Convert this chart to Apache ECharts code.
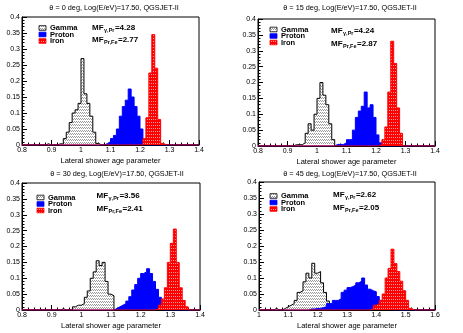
<!DOCTYPE html>
<html lang="en">
  <head>
    <meta charset="UTF-8" />
    <title>Lateral shower age parameter</title>
    <script src="https://cdn.jsdelivr.net/npm/echarts@6/dist/echarts.min.js"></script>
    <style>
      html, body { margin: 0; padding: 0; background: #fff; }
      #chart { width: 463px; height: 333px; }
    </style>
  </head>
  <body>
    <div id="chart"></div>

    <script type="text/javascript">
      // histogram bin width (all panels)
      const BIN = 0.01;

      // x range of each panel
      const xMin = [0.8, 0.8, 0.8, 1.0];
      const xMax = [1.4, 1.4, 1.4, 1.6];
      const angles = [0, 15, 30, 45];

      // merit factors printed in each panel
      const mfGammaProton = ["4.28", "4.24", "3.56", "2.62"];
      const mfProtonIron = ["2.77", "2.87", "2.41", "2.05"];

      // left edge of the first bin of each histogram, one per panel
      const gammaStart = [0.88, 0.92, 0.93, 1.05];
      const protonStart = [1.08, 1.06, 1.11, 1.17];
      const ironStart = [1.21, 1.21, 1.25, 1.38];

      // bin contents (fraction of events)
      const gamma = [
        [0.004, 0, 0, 0, 0.004, 0.003, 0.02, 0.04, 0.07, 0.1, 0.11, 0.13, 0.27, 0.16, 0.13, 0.09, 0.04, 0.005],
        [0.004, 0.004, 0.004, 0.01, 0.04, 0.07, 0.05, 0.1, 0.15, 0.2, 0.16, 0.13, 0.07, 0.02],
        [0.004, 0, 0, 0, 0.01, 0.015, 0.015, 0.02, 0.04, 0.06, 0.1, 0.12, 0.155, 0.14, 0.15, 0.09, 0.05, 0.045],
        [0.005, 0, 0, 0.005, 0.01, 0.015, 0.02, 0.03, 0.055, 0.06, 0.088, 0.115, 0.1, 0.146, 0.115, 0.12, 0.085, 0.055, 0.028, 0.018, 0.005],
      ];
      const proton = [
        [0.005, 0.01, 0.02, 0.03, 0.05, 0.09, 0.12, 0.14, 0.175, 0.15, 0.12, 0.09, 0.05, 0.01],
        [0.005, 0.005, 0.005, 0.01, 0.02, 0.02, 0.05, 0.09, 0.11, 0.125, 0.17, 0.12, 0.13, 0.09, 0.035, 0.01],
        [0.005, 0.01, 0.015, 0.02, 0.028, 0.042, 0.063, 0.08, 0.1, 0.115, 0.12, 0.13, 0.115, 0.09, 0.065, 0.04, 0.01],
        [0.003, 0.003, 0.005, 0.005, 0.008, 0.01, 0.02, 0.02, 0.03, 0.03, 0.035, 0.055, 0.062, 0.07, 0.073, 0.078, 0.085, 0.09, 0.1, 0.078, 0.065, 0.06, 0.057, 0.042, 0.03, 0.02, 0.01, 0.005],
      ];
      const iron = [
        [0.02, 0.085, 0.225, 0.345, 0.24, 0.08, 0.005],
        [0.005, 0.02, 0.06, 0.17, 0.33, 0.26, 0.12, 0.04],
        [0.005, 0.015, 0.035, 0.07, 0.15, 0.21, 0.255, 0.15, 0.07, 0.03, 0.01],
        [0.005, 0.015, 0.02, 0.03, 0.05, 0.1, 0.13, 0.19, 0.145, 0.12, 0.09, 0.06, 0.03, 0.005],
      ];

      // plot frames (px) and text anchors for each pad
      const grids = [
        { left: 22, top: 17, width: 177, height: 128 },
        { left: 258, top: 19, width: 177, height: 127 },
        { left: 22, top: 183, width: 178, height: 127 },
        { left: 259, top: 182, width: 176, height: 128 },
      ];
      const anchors = [
        { title: [114, 7.5], leg: [39, 28], mf: [92, 27.5] },
        { title: [350, 8], leg: [270, 29.5], mf: [331, 31] },
        { title: [117, 173.5], leg: [37, 197.5], mf: [96.5, 196] },
        { title: [350, 173.5], leg: [270, 196], mf: [333, 195] },
      ];

      const FONT = "'Liberation Sans', Arial, Helvetica, sans-serif";

      // small canvases used as ROOT-like fill patterns
      function makePattern(w, h, draw) {
        const c = document.createElement("canvas");
        c.width = w;
        c.height = h;
        draw(c.getContext("2d"));
        return { image: c, repeat: "repeat" };
      }
      const gammaFill = makePattern(2, 3, (ctx) => {
        ctx.fillStyle = "#ffffff";
        ctx.fillRect(0, 0, 2, 3);
        ctx.fillStyle = "#9a9a9a";
        ctx.fillRect(0, 1, 1, 1);
        ctx.fillRect(1, 2, 1, 1);
      });
      const ironFill = makePattern(4, 3, (ctx) => {
        ctx.fillStyle = "#ff0000";
        ctx.fillRect(0, 0, 4, 3);
        ctx.fillStyle = "#ff9a9a";
        ctx.fillRect(1, 2, 1, 1);
        ctx.fillRect(3, 2, 1, 1);
      });

      // text width helper for the MF labels
      const measureCtx = document.createElement("canvas").getContext("2d");
      function textWidth(str, font) {
        measureCtx.font = font;
        return measureCtx.measureText(str).width;
      }

      // turn a bin list into step points spanning the whole axis
      function histPoints(lo, hi, start, vals) {
        const pts = [];
        const n = Math.round((hi - lo) / BIN);
        for (let i = 0; i < n; i++) {
          const x = +(lo + i * BIN).toFixed(4);
          const k = Math.round((x - start) / BIN);
          pts.push([x, k >= 0 && k < vals.length ? vals[k] : 0]);
        }
        pts.push([hi, 0]);
        return pts;
      }

      const chart = echarts.init(document.getElementById("chart"), null, { renderer: "canvas" });

      const xAxes = [];
      const yAxes = [];
      const series = [];
      const graphics = [];

      const mainFont = "bold 8px " + FONT;
      const subFont = "bold 5.5px " + FONT;

      for (let i = 0; i < 4; i++) {
        xAxes.push({
          gridIndex: i,
          type: "value",
          min: xMin[i],
          max: xMax[i],
          interval: 0.1,
          name: "Lateral shower age parameter",
          nameLocation: "middle",
          nameGap: 12,
          nameTextStyle: { fontSize: 7.5, color: "#000", fontFamily: FONT },
          axisLine: { lineStyle: { color: "#000", width: 1 } },
          axisTick: { inside: true, length: 5, lineStyle: { color: "#000" } },
          minorTick: { show: true, splitNumber: 5, length: 2.5, lineStyle: { color: "#000" } },
          splitLine: { show: false },
          axisLabel: { fontSize: 7, color: "#000", margin: 2, fontFamily: FONT },
        });
        yAxes.push({
          gridIndex: i,
          type: "value",
          min: 0,
          max: 0.4,
          interval: 0.05,
          axisLine: { show: true, lineStyle: { color: "#000", width: 1 } },
          axisTick: { show: true, inside: true, length: 5, lineStyle: { color: "#000" } },
          minorTick: { show: true, splitNumber: 5, length: 2.5, lineStyle: { color: "#000" } },
          splitLine: { show: false },
          axisLabel: { fontSize: 7, color: "#000", margin: 2, fontFamily: FONT },
        });

        const hists = [
          { name: "Gamma", start: gammaStart[i], vals: gamma[i], line: "#000000", fill: gammaFill },
          { name: "Proton", start: protonStart[i], vals: proton[i], line: "#0000ff", fill: "#0000ff" },
          { name: "Iron", start: ironStart[i], vals: iron[i], line: "#ff0000", fill: ironFill },
        ];
        hists.forEach((h, j) => {
          series.push({
            name: h.name,
            type: "line",
            step: "end",
            xAxisIndex: i,
            yAxisIndex: i,
            symbol: "none",
            z: 2 + j,
            data: histPoints(xMin[i], xMax[i], h.start, h.vals),
            lineStyle: { color: h.line, width: 1 },
            areaStyle: { color: h.fill, opacity: 1 },
          });
        });

        const a = anchors[i];
        // pad title
        graphics.push({
          type: "text",
          x: a.title[0],
          y: a.title[1],
          style: {
            text: "θ = " + angles[i] + " deg, Log(E/eV)=17.50, QGSJET-II",
            fill: "#000",
            font: "7.3px " + FONT,
            align: "center",
            verticalAlign: "middle",
          },
        });
        // legend
        hists.forEach((h, j) => {
          const y = a.leg[1] + j * 6.5;
          graphics.push({
            type: "rect",
            shape: { x: a.leg[0], y: y - 2.3, width: 7, height: 4.6 },
            style: { fill: h.fill, stroke: h.line, lineWidth: 0.8 },
          });
          graphics.push({
            type: "text",
            x: a.leg[0] + 11,
            y: y,
            style: { text: h.name, fill: "#000", font: "bold 7.5px " + FONT, verticalAlign: "middle" },
          });
        });
        // merit factors: MF, lowered subscript, =value
        const mfRows = [
          ["γ,Pr", mfGammaProton[i]],
          ["Pr,Fe", mfProtonIron[i]],
        ];
        mfRows.forEach((r, j) => {
          const x0 = a.mf[0];
          const y0 = a.mf[1] + j * 12.5;
          const wMF = textWidth("MF", mainFont);
          const wSub = textWidth(r[0], subFont);
          graphics.push({
            type: "text",
            x: x0,
            y: y0,
            style: { text: "MF", fill: "#000", font: mainFont, verticalAlign: "middle" },
          });
          graphics.push({
            type: "text",
            x: x0 + wMF + 0.5,
            y: y0 + 2.5,
            style: { text: r[0], fill: "#000", font: subFont, verticalAlign: "middle" },
          });
          graphics.push({
            type: "text",
            x: x0 + wMF + wSub + 1,
            y: y0,
            style: { text: "=" + r[1], fill: "#000", font: mainFont, verticalAlign: "middle" },
          });
        });
      }

      chart.setOption({
        animation: false,
        backgroundColor: "#ffffff",
        grid: grids.map((g) => ({
          left: g.left,
          top: g.top,
          width: g.width,
          height: g.height,
          show: true,
          borderColor: "#000",
          borderWidth: 1,
          backgroundColor: "transparent",
          containLabel: false,
        })),
        xAxis: xAxes,
        yAxis: yAxes,
        series: series,
        graphic: graphics,
      });
    </script>
  </body>
</html>
